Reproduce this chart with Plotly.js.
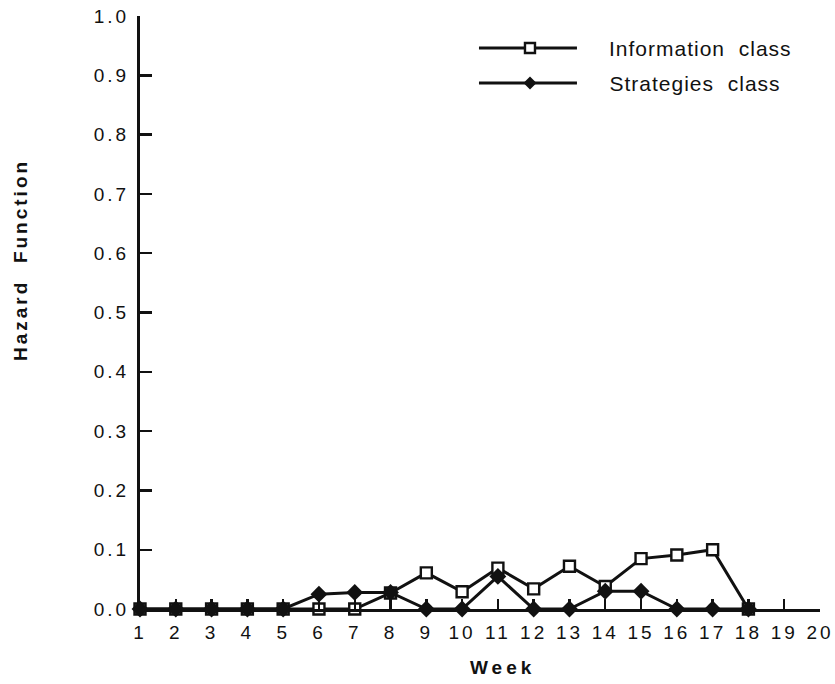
<!DOCTYPE html>
<html>
<head>
<meta charset="utf-8">
<script src="https://cdn.plot.ly/plotly-3.0.1.min.js"></script>
<style>
  html, body { margin: 0; padding: 0; background: #fff; }
  #chart { width: 835px; height: 684px; }
  .xtick text, .ytick text { letter-spacing: 3px; }
  g.annotation[data-index="0"] .annotation-text,
  g.annotation[data-index="1"] .annotation-text { letter-spacing: 1px; }
  g.annotation[data-index="2"] .annotation-text { letter-spacing: 4px; }
  g.annotation[data-index="3"] .annotation-text { letter-spacing: 3px; }
</style>
</head>
<body>
<div id="chart"></div>
<script>
// ---- data ----
const weeks = [1,2,3,4,5,6,7,8,9,10,11,12,13,14,15,16,17,18];
const informationClass = [0,0,0,0,0,0,0,0.027,0.061,0.029,0.069,0.034,0.072,0.038,0.085,0.091,0.100,0];
const strategiesClass  = [0,0,0,0,0,0.025,0.028,0.028,0,0,0.055,0,0,0.030,0.030,0,0,0];
const xTickVals = [1,2,3,4,5,6,7,8,9,10,11,12,13,14,15,16,17,18,19,20];
const yTickVals = [0,0.1,0.2,0.3,0.4,0.5,0.6,0.7,0.8,0.9,1.0];
const yTickText = ['0.0','0.1','0.2','0.3','0.4','0.5','0.6','0.7','0.8','0.9','1.0'];
const seriesNames = ['Information class', 'Strategies class'];
const xTitle = 'Week';
const yTitle = 'Hazard\u00a0\u00a0Function';

const ink = '#111';
const font = 'Arial, "Liberation Sans", Helvetica, sans-serif';

const traces = [
  {
    x: weeks, y: informationClass, name: seriesNames[0], type: 'scatter', mode: 'lines+markers',
    line: {color: ink, width: 3},
    marker: {symbol: 'square', size: 11, color: '#fff', line: {color: ink, width: 2.4}},
    cliponaxis: false, showlegend: false
  },
  {
    x: weeks, y: strategiesClass, name: seriesNames[1], type: 'scatter', mode: 'lines+markers',
    line: {color: ink, width: 3},
    marker: {symbol: 'diamond', size: 13, color: ink, line: {color: ink, width: 0}},
    cliponaxis: false, showlegend: false
  }
];

// legend drawn in paper coordinates
const legX0 = 0.4985, legX1 = 0.6426, legXm = 0.5735, legTextX = 0.70;
const legY = [0.946, 0.887];

const shapes = [
  {type:'line', xref:'paper', yref:'paper', x0:legX0, x1:legX1, y0:legY[0], y1:legY[0], line:{color:ink, width:3}},
  {type:'line', xref:'paper', yref:'paper', x0:legX0, x1:legX1, y0:legY[1], y1:legY[1], line:{color:ink, width:3}},
  {type:'rect', xref:'paper', yref:'paper', xsizemode:'pixel', ysizemode:'pixel',
   xanchor:legXm, yanchor:legY[0], x0:-5, x1:5, y0:-5, y1:5,
   fillcolor:'#fff', line:{color:ink, width:2.4}},
  {type:'path', xref:'paper', yref:'paper', xsizemode:'pixel', ysizemode:'pixel',
   xanchor:legXm, yanchor:legY[1], path:'M0,6.5 L6.5,0 L0,-6.5 L-6.5,0 Z',
   fillcolor:ink, line:{color:ink, width:0}}
];

const annotations = [
  {xref:'paper', yref:'paper', x:legTextX, y:legY[0], text:'Information\u00a0\u00a0class', showarrow:false,
   xanchor:'left', yanchor:'middle', font:{family:font, size:21, color:ink}},
  {xref:'paper', yref:'paper', x:legTextX, y:legY[1], text:'Strategies\u00a0\u00a0class', showarrow:false,
   xanchor:'left', yanchor:'middle', font:{family:font, size:21, color:ink}},
  {xref:'paper', yref:'paper', x:0.534, y:-0.099, text:'<b>' + xTitle + '</b>', showarrow:false,
   xanchor:'center', yanchor:'middle', font:{family:font, size:19, color:ink}},
  {xref:'paper', yref:'paper', x:-0.1765, y:0.5885, text:'<b>' + yTitle + '</b>', showarrow:false,
   textangle:-90, xanchor:'center', yanchor:'middle', font:{family:font, size:19, color:ink}}
];

const layout = {
  width: 835, height: 684,
  margin: {l: 140, r: 15, t: 16, b: 75},
  paper_bgcolor: '#fff', plot_bgcolor: '#fff',
  showlegend: false,
  font: {family: font, color: ink},
  xaxis: {
    range: [1, 20], tickmode: 'array', tickvals: xTickVals,
    ticks: 'inside', ticklen: 10, tickwidth: 2.4, tickcolor: ink,
    showline: true, linecolor: ink, linewidth: 3, showgrid: false, zeroline: false,
    tickfont: {family: font, size: 19, color: ink}, ticklabelstandoff: 4,
    ticklabeloverflow: 'allow',
    fixedrange: true
  },
  yaxis: {
    range: [0, 1], tickmode: 'array', tickvals: yTickVals, ticktext: yTickText,
    ticks: 'inside', ticklen: 12, tickwidth: 2.4, tickcolor: ink,
    showline: true, linecolor: ink, linewidth: 3, showgrid: false, zeroline: false,
    tickfont: {family: font, size: 19, color: ink}, ticklabelstandoff: 4,
    ticklabeloverflow: 'allow',
    fixedrange: true
  },
  shapes: shapes,
  annotations: annotations
};

Plotly.newPlot('chart', traces, layout, {displayModeBar: false, staticPlot: true});
</script>
</body>
</html>
